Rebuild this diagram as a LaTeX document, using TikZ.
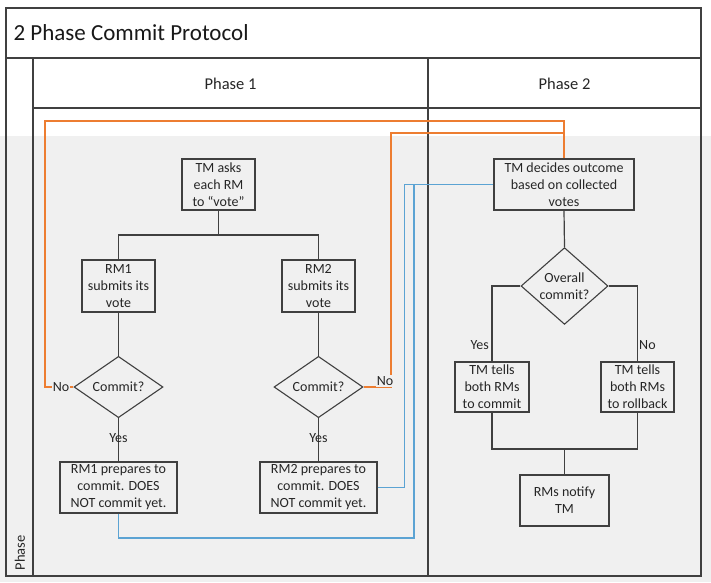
\documentclass[tikz,border=0pt]{standalone}
\usepackage{fontspec}
\setmainfont{Carlito}
\usetikzlibrary{shapes.geometric,calc}
\definecolor{bg}{HTML}{F0F0F0}
\definecolor{frm}{HTML}{404040}
\definecolor{orn}{HTML}{ED7D31}
\definecolor{blu}{HTML}{5BA3D3}
\begin{document}
\begin{tikzpicture}[x=1pt,y=-1pt,
  box/.style={draw=frm,line width=1.1pt,fill=bg,inner sep=0pt,align=center,
    font=\fontsize{14}{17}\selectfont,text=black!85},
  dia/.style={diamond,draw=frm,line width=1.1pt,fill=bg,inner sep=0pt,align=center,
    font=\fontsize{14}{17}\selectfont,text=black!85},
  conn/.style={draw=frm,line width=1.2pt},
  oconn/.style={draw=orn,line width=1.1pt},
  bconn/.style={draw=blu,line width=1.1pt},
  lbl/.style={font=\fontsize{14}{16}\selectfont,text=black!85,inner sep=1pt},
  frame/.style={draw=frm,line width=1.1pt}]
\useasboundingbox (0,0) rectangle (711,582);
\fill[white] (0,0) rectangle (711,582);
\fill[bg] (0,136) rectangle (711,582);
% frame
\draw[frame] (6,8) rectangle (701,576);
\draw[frame] (6,58) -- (701,58);
\draw[frame] (33,58) -- (33,576);
\draw[frame] (33,108) -- (701,108);
\draw[frame] (428,58) -- (428,576);
\node[anchor=west,font=\fontsize{23}{26}\selectfont,text=black!90] (title) at (10,33) {2 Phase Commit Protocol};
\node[font=\fontsize{16.5}{18}\selectfont,text=black!85] (ph1) at (230.5,84) {Phase 1};
\node[font=\fontsize{16.5}{18}\selectfont,text=black!85] (ph2) at (564.5,84) {Phase 2};
\node[rotate=90,font=\fontsize{14.5}{16}\selectfont,text=black!85] (phl) at (20,553) {Phase};
% phase 1 nodes
\node[box,minimum width=73pt,minimum height=51pt] (ask) at (218.5,184.5) {TM asks\\each RM\\to “vote”};
\node[box,minimum width=73pt,minimum height=52pt] (rm1) at (118.5,286) {RM1\\submits its\\vote};
\node[box,minimum width=73pt,minimum height=52pt] (rm2) at (318.5,286) {RM2\\submits its\\vote};
\node[dia,minimum width=89pt,minimum height=50pt] (d1) at (118.5,387) {Commit?};
\node[dia,minimum width=89pt,minimum height=50pt] (d2) at (318.5,387) {Commit?};
\node[box,minimum width=117pt,minimum height=51pt] (p1) at (118.5,487.5) {RM1 prepares to\\commit. DOES\\NOT commit yet.};
\node[box,minimum width=117pt,minimum height=51pt] (p2) at (318.5,487.5) {RM2 prepares to\\commit. DOES\\NOT commit yet.};
% phase 2 nodes
\node[box,minimum width=140pt,minimum height=51pt] (dec) at (564,184.5) {TM decides outcome\\based on collected\\votes};
\node[dia,minimum width=87pt,minimum height=62pt] (ov) at (564.5,286) {Overall\\commit?};
\node[box,minimum width=74pt,minimum height=50pt] (tc) at (492,387) {TM tells\\both RMs\\to commit};
\node[box,minimum width=73pt,minimum height=50pt] (tr) at (637.5,387) {TM tells\\both RMs\\to rollback};
\node[box,minimum width=89pt,minimum height=51pt] (nt) at (564.5,500.5) {RMs notify\\TM};
% phase 1 connectors
\coordinate (j1) at (218.5,235);
\draw[conn] (ask.south) -- (j1);
\draw[conn] (j1) -| (rm1.north);
\draw[conn] (j1) -| (rm2.north);
\draw[conn] (rm1.south) -- (d1.north);
\draw[conn] (rm2.south) -- (d2.north);
\draw[conn] (d1.south) -- (p1.north);
\draw[conn] (d2.south) -- (p2.north);
\node[lbl] (y1) at (118.5,438) {Yes};
\node[lbl] (y2) at (318.5,438) {Yes};
% orange feedback
\draw[oconn] (d1.west) -- (45,387) -- (45,121) -| (dec.north);
\draw[oconn] (d2.east) -- (391,387) -- (391,133) -- (564,133);
\node[lbl,fill=bg] (n1) at (61,387) {No};
\node[lbl,fill=bg] (n2) at (385,381) {No};
% blue feedback
\draw[bconn] (p2.east) -- ++(27,0) |- (dec.west);
\draw[bconn] (p1.south) |- (414,538) |- (dec.west);
% phase 2 connectors
\coordinate (j2) at (564.5,449);
\draw[conn] (dec.south) -- (ov.north);
\draw[conn] (ov.west) -| (tc.north);
\draw[conn] (ov.east) -| (tr.north);
\draw[conn] (tc.south) |- (j2);
\draw[conn] (tr.south) |- (j2);
\draw[conn] (j2) -- (nt.north);
\node[lbl,anchor=east] (y3) at (490,345) {Yes};
\node[lbl,anchor=west] (n3) at (638,345) {No};
\end{tikzpicture}
\end{document}
